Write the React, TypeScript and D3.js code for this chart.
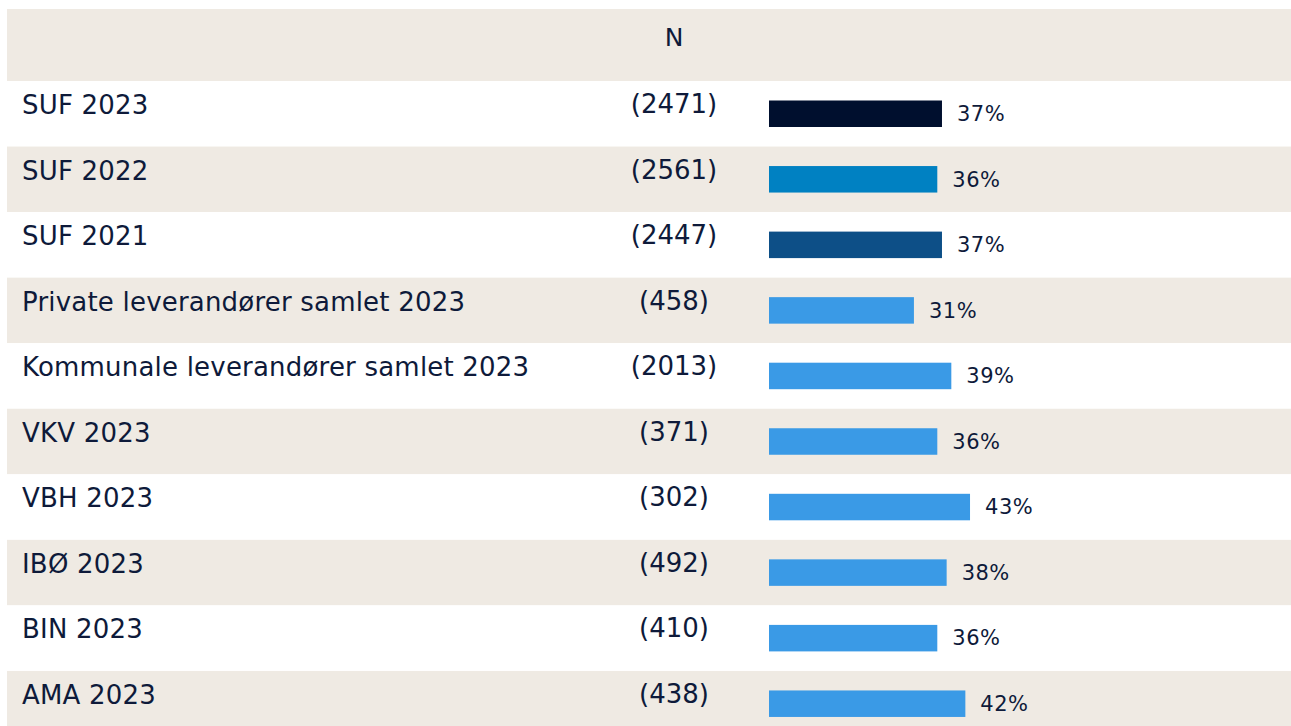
import React from "react";
import * as d3 from "d3";

const categories = [
  "SUF 2023",
  "SUF 2022",
  "SUF 2021",
  "Private leverandører samlet 2023",
  "Kommunale leverandører samlet 2023",
  "VKV 2023",
  "VBH 2023",
  "IBØ 2023",
  "BIN 2023",
  "AMA 2023",
];
const nValues = [2471, 2561, 2447, 458, 2013, 371, 302, 492, 410, 438];
const percents = [37, 36, 37, 31, 39, 36, 43, 38, 36, 42];
const barColors = [
  "#000F2E",
  "#0081C2",
  "#0D4F87",
  "#3A9AE6",
  "#3A9AE6",
  "#3A9AE6",
  "#3A9AE6",
  "#3A9AE6",
  "#3A9AE6",
  "#3A9AE6",
];
const headerLabel = "N";

const W = 1291;
const H = 726;
const FONT = "'DejaVu Sans', sans-serif";
const TEXT = "#0E1A3A";
const BEIGE = "#EFEAE3";

export default function App() {
  const left = 7;
  const headerTop = 9;
  const headerBottom = 81;
  const rowH = 65.55;

  const y = d3
    .scaleBand<string>()
    .domain(categories)
    .range([headerBottom, headerBottom + rowH * categories.length])
    .paddingInner(0)
    .paddingOuter(0);

  const x = d3.scaleLinear().domain([0, 100]).range([769, 769 + 467.5]);
  const nCenter = 674;

  return (
    <svg
      width={W}
      height={H}
      style={{ position: "absolute", left: 0, top: 0, display: "block" }}
      fontFamily={FONT}
    >
      <rect x={0} y={0} width={W} height={H} fill="#fff" />
      <rect x={left} y={headerTop} width={W - left} height={headerBottom - headerTop} fill={BEIGE} />
      <text x={nCenter} y={46} textAnchor="middle" fontSize={25} fill={TEXT}>
        {headerLabel}
      </text>
      {categories.map((c, i) => {
        const top = y(c)!;
        return (
          <g key={c}>
            <rect
              x={left}
              y={top}
              width={W - left}
              height={y.bandwidth()}
              fill={i % 2 === 1 ? BEIGE : "#fff"}
            />
            <text x={22} y={top + 33} fontSize={26} letterSpacing={0.2} fill={TEXT}>
              {c}
            </text>
            <text x={nCenter} y={top + 32} textAnchor="middle" fontSize={26} fill={TEXT}>
              {`(${nValues[i]})`}
            </text>
            <rect
              x={x(0)}
              y={top + 19.5}
              width={x(percents[i]) - x(0)}
              height={26.5}
              fill={barColors[i]}
            />
            <text x={x(percents[i]) + 15} y={top + 40} fontSize={21} letterSpacing={0.5} fill={TEXT}>
              {`${percents[i]}%`}
            </text>
          </g>
        );
      })}
    </svg>
  );
}
